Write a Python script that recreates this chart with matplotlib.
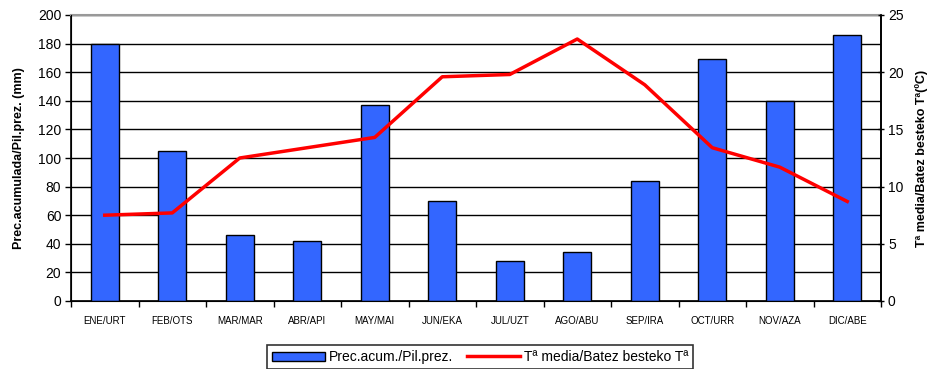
import matplotlib
matplotlib.use("Agg")
import matplotlib.pyplot as plt
import numpy as np

plt.rcParams['font.family'] = ['Liberation Sans', 'DejaVu Sans']

months = ["ENE/URT", "FEB/OTS", "MAR/MAR", "ABR/API", "MAY/MAI", "JUN/EKA",
          "JUL/UZT", "AGO/ABU", "SEP/IRA", "OCT/URR", "NOV/AZA", "DIC/ABE"]
precip = [180, 105, 46, 42, 137, 70, 28, 34, 84, 169, 140, 186]
temp = [7.5, 7.7, 12.5, 13.4, 14.3, 19.6, 19.8, 22.9, 18.9, 13.4, 11.7, 8.7]

fig = plt.figure(figsize=(9.34, 3.69), dpi=100)
ax = fig.add_axes([71/934, 68/369, 810/934, 286/369])
x = np.arange(len(months))
bars = ax.bar(x, precip, width=0.42, color='#3366FF', edgecolor='black',
              linewidth=1.0, zorder=3, label='Prec.acum./Pil.prez.')
ax.set_xlim(-0.5, len(months) - 0.5)
ax.set_ylim(0, 200)
ax.set_yticks(np.arange(0, 201, 20))
ax.yaxis.grid(True, color='black', linewidth=1.0, zorder=0)
ax.set_axisbelow(True)
ax.set_xticks(x)
ax.set_xticklabels(months, fontsize=7)
ax.set_xticks(np.arange(-0.5, len(months), 1), minor=True)
ax.tick_params(axis='x', which='major', length=0, pad=11)
ax.tick_params(axis='x', which='minor', length=4, width=1, direction='out')
ax.tick_params(axis='y', labelsize=10, length=4, width=1, direction='out', pad=3)
ax.set_ylabel('Prec.acumulada/Pil.prez. (mm)', fontsize=9, fontweight='bold',
              labelpad=9)
ax.spines['top'].set_color('#999999')
ax.spines['top'].set_linewidth(1.5)
for s in ['left', 'bottom', 'right']:
    ax.spines[s].set_linewidth(1.2)

ax2 = ax.twinx()
line, = ax2.plot(x, temp, color='#FF0000', linewidth=2.5, zorder=4,
                 label='Tª media/Batez besteko Tª')
ax2.set_ylim(0, 25)
ax2.set_yticks(np.arange(0, 26, 5))
ax2.tick_params(axis='y', labelsize=10, length=4, width=1, direction='inout', pad=3)
ax2.set_ylabel('Tª media/Batez besteko Tª(ºC)', fontsize=9, fontweight='bold',
               labelpad=8)
ax2.spines['right'].set_linewidth(1.2)
ax2.spines['top'].set_visible(False)

leg = fig.legend([bars, line], [bars.get_label(), line.get_label()],
                 loc='center', bbox_to_anchor=(480/934, 12/369), ncol=2,
                 fontsize=10, frameon=True, fancybox=False, edgecolor='black',
                 handlelength=3.8, handleheight=0.6, columnspacing=1.0,
                 borderpad=0.35, handletextpad=0.3)
leg.get_frame().set_linewidth(1.2)

fig.savefig('out.png', dpi=100)
